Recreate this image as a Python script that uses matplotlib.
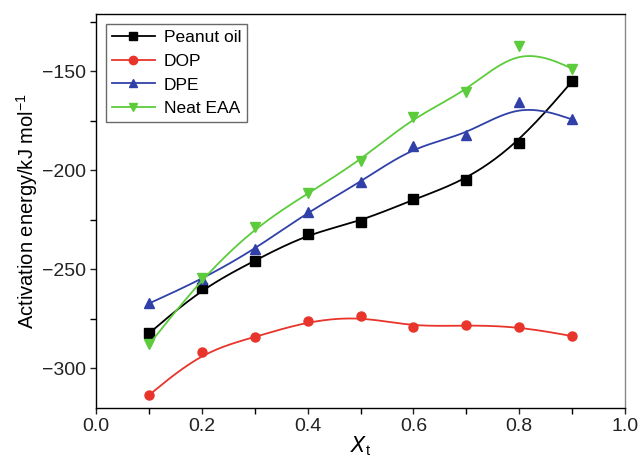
import numpy as np
import matplotlib.pyplot as plt
from matplotlib.ticker import MultipleLocator

x_t = [0.1, 0.2, 0.3, 0.4, 0.5, 0.6, 0.7, 0.8, 0.9]
peanut_oil = [-282.3, -259.6, -245.5, -232.0, -225.8, -214.6, -205.0, -185.9, -155.0]
dop = [-313.5, -291.6, -284.2, -276.1, -273.6, -279.1, -278.1, -278.9, -283.7]
dpe = [-267.2, -255.0, -239.9, -221.0, -206.0, -187.7, -182.3, -165.5, -174.2]
neat_eaa = [-287.9, -254.5, -228.8, -211.6, -195.0, -172.9, -160.3, -136.9, -148.5]


def bspline(xs, ys, n=40):
    # uniform cubic B-spline with the end points repeated (curve hits ends)
    px = np.concatenate([[xs[0]] * 2, xs, [xs[-1]] * 2])
    py = np.concatenate([[ys[0]] * 2, ys, [ys[-1]] * 2])
    t = np.linspace(0, 1, n, endpoint=False)
    b0 = (1 - t) ** 3 / 6
    b1 = (3 * t ** 3 - 6 * t ** 2 + 4) / 6
    b2 = (-3 * t ** 3 + 3 * t ** 2 + 3 * t + 1) / 6
    b3 = t ** 3 / 6
    cx, cy = [], []
    for i in range(len(px) - 3):
        cx.append(b0 * px[i] + b1 * px[i + 1] + b2 * px[i + 2] + b3 * px[i + 3])
        cy.append(b0 * py[i] + b1 * py[i + 1] + b2 * py[i + 2] + b3 * py[i + 3])
    cx.append([xs[-1]])
    cy.append([ys[-1]])
    return np.concatenate(cx), np.concatenate(cy)


series = [
    ('Peanut oil', peanut_oil, 'black', 's'),
    ('DOP', dop, '#e8342a', 'o'),
    ('DPE', dpe, '#3040a8', '^'),
    ('Neat EAA', neat_eaa, '#5ccc3c', 'v'),
]

plt.rcParams['font.family'] = ['Liberation Sans', 'DejaVu Sans']
fig = plt.figure(figsize=(6.41, 4.70), dpi=100)
ax = fig.add_axes([0.150, 0.132, 0.825, 0.838])

for name, vals, color, marker in series:
    sx, sy = bspline(np.array(x_t), np.array(vals))
    ax.plot(sx, sy, color=color, lw=1.3)
    ax.plot(x_t, vals, linestyle='none', marker=marker, color=color, markersize=6.5)
    ax.plot([], [], color=color, lw=1.3, marker=marker, markersize=6, label=name)

ax.set_xlim(0.0, 1.0)
ax.set_ylim(-320, -121)
ax.xaxis.set_major_locator(MultipleLocator(0.2))
ax.xaxis.set_minor_locator(MultipleLocator(0.1))
ax.yaxis.set_major_locator(MultipleLocator(50))
ax.yaxis.set_minor_locator(MultipleLocator(25))
ax.xaxis.set_major_formatter(plt.FuncFormatter(lambda v, p: f'{v:.1f}'))
ax.yaxis.set_major_formatter(plt.FuncFormatter(lambda v, p: f'\u2212{abs(v):.0f}'))
ax.tick_params(which='major', direction='out', length=4, width=1, labelsize=14,
               colors='#222222', pad=3)
ax.tick_params(which='minor', direction='out', length=4, width=1)
for s in ax.spines.values():
    s.set_linewidth(1.0)
ax.spines['right'].set_color('#888888')

ax.set_xlabel('$X_{\\mathregular{t}}$', fontsize=15, labelpad=0)
ax.set_ylabel('Activation energy/kJ mol$^{\\mathregular{-1}}$', fontsize=14.5, labelpad=2)

leg = ax.legend(loc='upper left', fontsize=12.5, frameon=True, fancybox=False,
                edgecolor='#444444', handlelength=2.5, borderaxespad=0.55,
                labelspacing=0.5, handletextpad=0.5, borderpad=0.35)
leg.get_frame().set_linewidth(1.0)

fig.savefig('out.png', dpi=100)
